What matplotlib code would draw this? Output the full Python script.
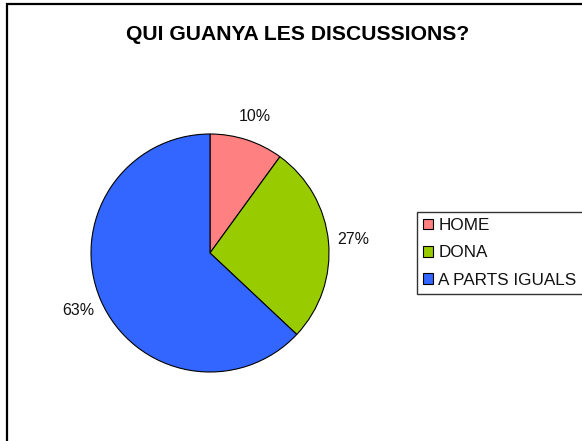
import matplotlib.pyplot as plt
from matplotlib.patches import Rectangle

plt.rcParams['font.family'] = ['Liberation Sans', 'DejaVu Sans']

# data
categories = ["HOME", "DONA", "A PARTS IGUALS"]
values = [10, 27, 63]
colors = ["#FF8080", "#99CC00", "#3366FF"]

W, H = 582, 441
fig = plt.figure(figsize=(W / 100, H / 100), dpi=100)

# outer chart border (right and bottom edges fall outside the image)
fig.patches.append(Rectangle((6.5 / W, -0.1), 1.2, 1.1 - 4.5 / H, transform=fig.transFigure,
                             fill=False, edgecolor="black", lw=1.6, clip_on=False))

fig.text(297.5 / W, 1 - 34 / H, "QUI GUANYA LES DISCUSSIONS?", ha="center", va="center",
         fontsize=15.2, fontweight="bold")

# pie axes: center ~ (210, 253) px, radius ~ 119 px
cx, cy, r = 210, 253, 119
ax = fig.add_axes([(cx - r) / W, 1 - (cy + r) / H, 2 * r / W, 2 * r / H])
wedges, texts, autotexts = ax.pie(values, colors=colors, startangle=90, counterclock=False,
                                  autopct="%1.0f%%", pctdistance=1.21,
                                  wedgeprops=dict(edgecolor="black", linewidth=0.8),
                                  textprops=dict(fontsize=11.5, color="#111111"))
ax.set_xlim(-1, 1)
ax.set_ylim(-1, 1)
ax.set_aspect("auto")

# legend box runs past the right edge of the image, as in the original
leg = fig.legend(wedges, categories, loc="upper left", mode="expand",
                 bbox_to_anchor=(417 / W, 1 - 296 / H, 200 / W, 84 / H), fontsize=12.3,
                 frameon=True, fancybox=False, borderpad=0.35, labelspacing=0.72,
                 handlelength=0.6, handleheight=0.6, handletextpad=0.3,
                 borderaxespad=0)
leg.get_frame().set_edgecolor("black")
leg.get_frame().set_linewidth(1.0)
for t in leg.get_texts():
    t.set_color("#111111")

fig.savefig("out.png", dpi=100)
